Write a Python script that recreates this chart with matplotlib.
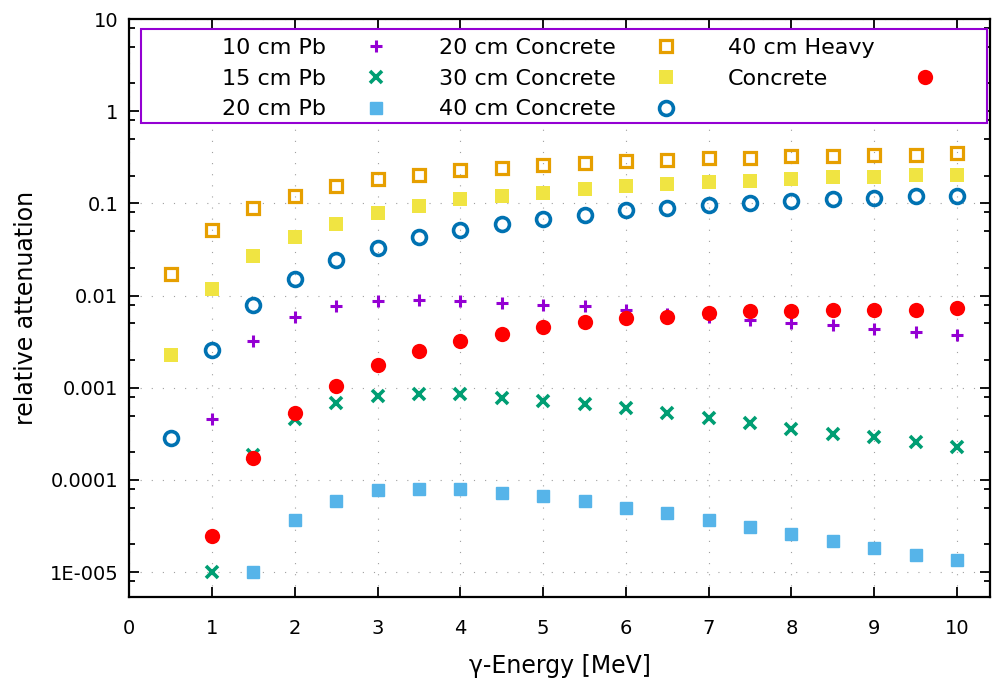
import numpy as np
import matplotlib
matplotlib.use("Agg")
import matplotlib.pyplot as plt
from matplotlib.lines import Line2D
from matplotlib.patches import Rectangle
from matplotlib.ticker import LogLocator, NullFormatter

nan = np.nan

energy = [0.5, 1.0, 1.5, 2.0, 2.5, 3.0, 3.5, 4.0, 4.5, 5.0,
          5.5, 6.0, 6.5, 7.0, 7.5, 8.0, 8.5, 9.0, 9.5, 10.0]

pb_10 = [nan, 4.6e-4, 3.2e-3, 5.9e-3, 7.7e-3, 8.7e-3, 9.0e-3, 8.7e-3, 8.3e-3, 8.0e-3,
         7.7e-3, 7.0e-3, 6.3e-3, 5.9e-3, 5.4e-3, 5.0e-3, 4.8e-3, 4.35e-3, 4.0e-3, 3.7e-3]
pb_15 = [nan, 1.0e-5, 1.85e-4, 4.55e-4, 6.85e-4, 8.2e-4, 8.5e-4, 8.5e-4, 7.8e-4, 7.2e-4,
         6.6e-4, 6.0e-4, 5.3e-4, 4.7e-4, 4.1e-4, 3.6e-4, 3.15e-4, 2.9e-4, 2.55e-4, 2.25e-4]
pb_20 = [nan, nan, 1.0e-5, 3.65e-5, 5.9e-5, 7.7e-5, 8.0e-5, 8.0e-5, 7.3e-5, 6.7e-5,
         5.9e-5, 5.0e-5, 4.35e-5, 3.65e-5, 3.1e-5, 2.6e-5, 2.2e-5, 1.85e-5, 1.55e-5, 1.37e-5]
concrete_20 = [0.0173, 0.0512, 0.0887, 0.121, 0.156, 0.185, 0.202, 0.231, 0.241, 0.262,
               0.273, 0.287, 0.296, 0.311, 0.311, 0.325, 0.325, 0.338, 0.338, 0.353]
concrete_30 = [0.00229, 0.0118, 0.0268, 0.043, 0.0604, 0.0783, 0.0933, 0.111, 0.1216, 0.131,
               0.1426, 0.156, 0.164, 0.171, 0.177, 0.186, 0.195, 0.195, 0.202, 0.202]
concrete_40 = [0.000288, 0.0026, 0.00798, 0.0153, 0.0244, 0.0332, 0.043, 0.0512, 0.0604, 0.0684,
               0.075, 0.0857, 0.0893, 0.097, 0.101, 0.1064, 0.111, 0.1157, 0.1206, 0.1206]
heavy_40 = [nan, 2.49e-5, 1.72e-4, 5.31e-4, 1.05e-3, 1.77e-3, 2.49e-3, 3.23e-3, 3.84e-3, 4.58e-3,
            5.22e-3, 5.69e-3, 5.92e-3, 6.49e-3, 6.77e-3, 6.77e-3, 7.05e-3, 7.05e-3, 7.05e-3, 7.41e-3]

xticks = [0, 1, 2, 3, 4, 5, 6, 7, 8, 9, 10]
yticks = [1e-5, 1e-4, 1e-3, 1e-2, 1e-1, 1, 10]
ytick_labels = ["1E-005", "0.0001", "0.001", "0.01", "0.1", "1", "10"]

series = [
    ("10 cm Pb", pb_10, dict(marker="+", color="#9400D3", ms=8, mew=2.2)),
    ("15 cm Pb", pb_15, dict(marker="x", color="#009E73", ms=8.5, mew=2.6)),
    ("20 cm Pb", pb_20, dict(marker="s", color="#56B4E9", ms=8, mew=1.0)),
    ("20 cm Concrete", concrete_20, dict(marker="s", color="#E69F00", ms=9, mew=2.3, mfc="none")),
    ("30 cm Concrete", concrete_30, dict(marker="s", color="#F0E442", ms=10, mew=0)),
    ("40 cm Concrete", concrete_40, dict(marker="o", color="#0072B2", ms=10, mew=2.6, mfc="none")),
    ("Concrete", heavy_40, dict(marker="o", color="#FF0000", ms=11, mew=0)),
]

fig = plt.figure(figsize=(9.92, 6.82), dpi=100)
ax = fig.add_axes([0.1304, 0.1246, 0.8676, 0.8475])

handles = []
for label, values, style in series:
    line, = ax.plot(energy, values, linestyle="none", zorder=4, **style)
    handles.append(line)

ax.set_yscale("log")
ax.set_xlim(0, 10.4)
ax.set_ylim(10 ** -5.27, 10)

ax.set_xticks(xticks)
ax.set_xticklabels([str(t) for t in xticks])
ax.set_yticks(yticks)
ax.set_yticklabels(ytick_labels)
ax.yaxis.set_minor_locator(LogLocator(base=10, subs=(2, 5, 8), numticks=20))
ax.yaxis.set_minor_formatter(NullFormatter())

ax.tick_params(which="both", direction="in", top=True, right=True, width=1.3)
ax.tick_params(which="major", length=7)
ax.tick_params(which="minor", length=4)
ax.tick_params(axis="x", labelsize=14, pad=16)
ax.tick_params(axis="y", labelsize=14, pad=8)
for s in ax.spines.values():
    s.set_linewidth(1.6)

ax.grid(True, which="major", color="#a0a0a0", linestyle=(0, (1, 9)), linewidth=0.8)

ax.set_xlabel("γ-Energy [MeV]", fontsize=17, labelpad=11)
ax.set_ylabel("relative attenuation", fontsize=17, labelpad=8)

# key box like gnuplot: 3 columns, last title split over two rows
ax.add_patch(Rectangle((0.0135, 0.820), 0.983, 0.1626, transform=ax.transAxes,
                       facecolor="white", edgecolor="#9400D3", linewidth=1.5, zorder=5))
blank = Line2D([], [], linestyle="none")
leg_handles = handles[:6] + [blank, handles[6], blank]
leg_labels = [s[0] for s in series[:6]] + ["40 cm Heavy", "Concrete", ""]
leg = ax.legend(leg_handles, leg_labels, ncol=3, loc="upper left",
                bbox_to_anchor=(0.1076, 0.9672), frameon=False, markerfirst=False,
                fontsize=16, handlelength=1.0, handletextpad=1.77, columnspacing=2.3,
                labelspacing=0.48, borderpad=0, borderaxespad=0)
leg.set_zorder(6)

# the two lines of the last title start at the same x, as in gnuplot
fig.canvas.draw()
renderer = fig.canvas.get_renderer()
texts = leg.get_texts()
shift = texts[6].get_window_extent(renderer).width - texts[7].get_window_extent(renderer).width
texts[7].set_x(-shift)

fig.savefig("out.png", dpi=100)
